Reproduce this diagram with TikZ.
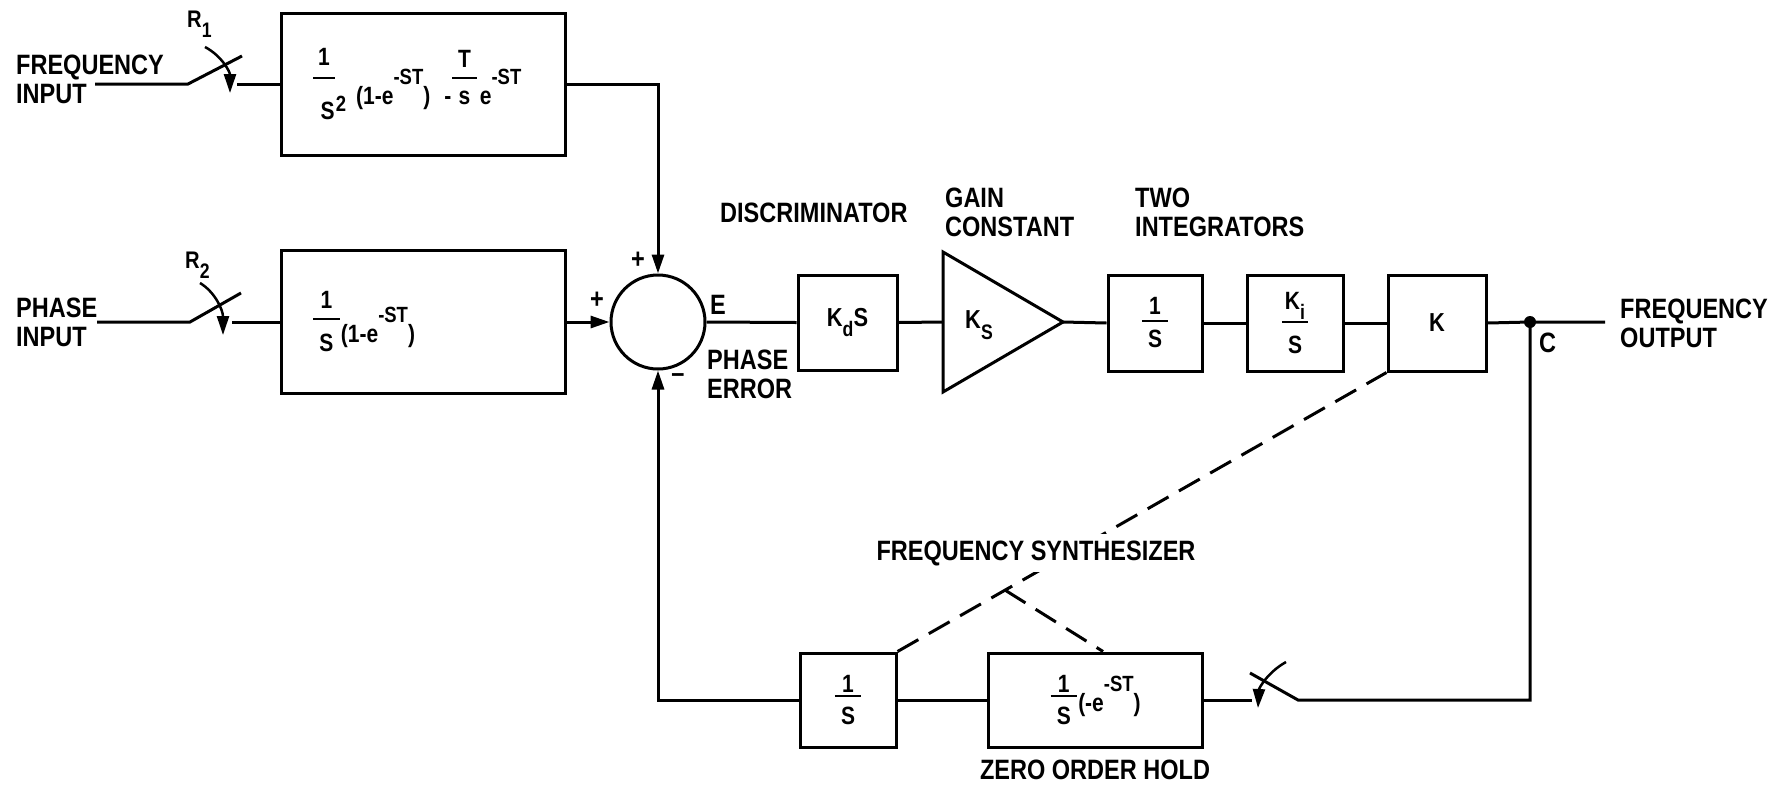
\documentclass[tikz,border=0pt]{standalone}
\usepackage{fontspec}
\usepackage{amsmath}
\setmainfont{Liberation Sans Bold}[FakeStretch=0.84]
\usetikzlibrary{arrows.meta,calc}
\newcommand\lblf{\fontsize{28}{29}\selectfont}
\newcommand\fml{\fontsize{25}{27}\selectfont}
\newcommand\kfnt{\fontsize{26}{28}\selectfont}
\newcommand\supx[1]{\raisebox{0.8em}{\fontsize{22}{22}\selectfont #1}}
\newcommand\subx[1]{\raisebox{-0.4em}{\fontsize{21}{21}\selectfont #1}}
% [raise]{num depth}{den strut}{num}{den}
\newcommand\fracx[5][0pt]{\raisebox{#1}{$\genfrac{}{}{2pt}{1}{\mbox{\rule[-#2]{0pt}{#2}#4}}{\mbox{\hspace{0.25em}\rule{0pt}{#3}#5\hspace{0.25em}}}$}}
\newcommand\fracy[5][0pt]{\raisebox{#1}{$\genfrac{}{}{2pt}{1}{\mbox{\rule[-#2]{0pt}{#2}#4}}{\mbox{\hspace{0.3em}\rule{0pt}{#3}#5}}$}}
\begin{document}
\begin{tikzpicture}[x=1pt,y=-1pt,
  wire/.style={line width=3pt},
  blk/.style={draw,line width=3pt,inner sep=0pt,font=\fml},
  lbl/.style={inner sep=0pt,anchor=west,align=left,font=\lblf},
  sml/.style={inner sep=0pt,font=\lblf},
  tip/.style={-{Triangle[length=19pt,width=12pt]}},
  dsh/.style={line width=3pt,dash pattern=on 24pt off 12pt},
]
\useasboundingbox (0,0) rectangle (1787,788);

% ---------- blocks ----------
\node[blk,minimum width=284pt,minimum height=142pt,text width=222pt,align=left] (top) at (423,84)
  {\fracy[20pt]{10pt}{38pt}{1}{S}\raisebox{-7pt}{\fontsize{22}{22}\selectfont 2}\hspace{10pt}(1-e\supx{-ST})\hspace{14pt}-\fracx[20pt]{8pt}{23pt}{T}{s}\hspace{2pt}e\supx{-ST}};
\node[blk,minimum width=284pt,minimum height=143pt,text width=222pt,align=left] (bot) at (423,322)
  {\fracx[17pt]{7pt}{30pt}{1}{S}(1-e\supx{-ST})};
\node[circle,draw,line width=3pt,minimum size=94pt,inner sep=0pt] (sum) at (658,322) {};
\node[blk,minimum width=99pt,minimum height=95pt,font=\kfnt] (kd) at (847.5,322.5) {K\subx{d}S};
\coordinate (triw) at (943,322);
\coordinate (trie) at (1063,322);
\draw[wire,line join=miter] (943,252) -- (trie) -- (943,392) -- cycle;
\node[inner sep=0pt,font=\kfnt] (ks) at (979,325) {K\subx{S}};
\node[blk,minimum width=94pt,minimum height=96pt] (int1) at (1155,323) {\fracx{3pt}{24pt}{1}{S}};
\node[blk,minimum width=96pt,minimum height=96pt] (int2) at (1295,323) {\fracx{3pt}{28pt}{K\subx{i}}{S}};
\node[blk,minimum width=98pt,minimum height=96pt,font=\kfnt] (kb) at (1437,323) {K};
\node[blk,minimum width=96pt,minimum height=94pt] (s1) at (848,700) {\fracx{0pt}{26pt}{1}{S}};
\node[blk,minimum width=214pt,minimum height=94pt] (zoh) at (1095,700) {\fracx[9pt]{0pt}{26pt}{1}{S}(-e\supx{-ST})};

% ---------- input switches ----------
\coordinate (fi) at (95,84);
\coordinate (fs) at (188,84);
\coordinate (fb) at (242,56);
\coordinate (fe) at (237,84);
\draw[wire] (fi) -- (fs) -- (fb);
\draw[wire] (fe) -- (top.west);
\draw[line width=2.5pt,tip] (205,47) .. controls (222,56) and (230,72) .. (230,93);

\coordinate (pi) at (97,322);
\coordinate (ps) at (190,322);
\coordinate (pb) at (241,293);
\coordinate (pe) at (232,322);
\draw[wire] (pi) -- (ps) -- (pb);
\draw[wire] (pe) -- (bot.west);
\draw[line width=2.5pt,tip] (200,283) .. controls (215,292) and (223,310) .. (223,335);

% ---------- forward path ----------
\draw[wire,tip] (top.east) -| (sum.north);
\draw[wire,tip] (bot.east) -- (sum.west);
\draw[wire] (sum.east) -- (kd.west);
\draw[wire] (kd.east) -- (triw);
\draw[wire] (trie) -- (int1.west);
\draw[wire] (int1.east) -- (int2.west);
\draw[wire] (int2.east) -- (kb.west);
\coordinate (c) at (1530,322);
\coordinate (oend) at (1605,322);
\draw[wire] (kb.east) -- (c) -- (oend);
\fill (c) circle (6pt);

% ---------- feedback path ----------
\coordinate (cb) at (1530,700);
\coordinate (zs) at (1298,700);
\coordinate (zb) at (1250,673);
\coordinate (ze) at (1252,700);
\draw[wire] (c) -- (cb) -- (zs) -- (zb);
\draw[wire] (zoh.east) -- (ze);
\draw[line width=2.5pt,tip] (1286,662) .. controls (1268,672) and (1259,688) .. (1258,708);
\draw[wire] (zoh.west) -- (s1.east);
\draw[wire,tip] (s1.west) -| (sum.south);

% ---------- dashed synthesizer lines ----------
\draw[dsh] (s1.north east) -- (kb.south west);
\coordinate (dm) at ($(s1.north east)!0.22!(kb.south west)$);
\draw[dsh] (dm) -- ($(zoh.north west)!0.537!(zoh.north east)$);
\node[inner sep=6pt,fill=white,font=\lblf] (fsyn) at (1036,553) {FREQUENCY SYNTHESIZER};

% ---------- labels ----------
\node[lbl] (lfi) at (16,79) {FREQUENCY\\INPUT};
\node[lbl] (lpi) at (16,322) {PHASE\\INPUT};
\node[inner sep=0pt,anchor=west,font=\fontsize{24}{24}\selectfont] (r1) at (187,24) {R\subx{1}};
\node[inner sep=0pt,anchor=west,font=\fontsize{24}{24}\selectfont] (r2) at (185,265) {R\subx{2}};
\node[sml] (ptop) at (638,260) {+};
\node[sml] (pleft) at (597,300) {+};
\node[sml] (le) at (718,305) {E};
\node[sml] (mn) at (678,378) {–};
\node[lbl] (lpe) at (707,374) {PHASE\\ERROR};
\node[lbl] (ldis) at (720,213) {DISCRIMINATOR};
\node[lbl] (lgain) at (945,212) {GAIN\\CONSTANT};
\node[lbl] (ltwo) at (1135,212) {TWO\\INTEGRATORS};
\node[lbl] (lc) at (1539,343) {C};
\node[lbl] (lfo) at (1620,323) {FREQUENCY\\OUTPUT};
\node[sml] (lzoh) at (1095,770) {ZERO ORDER HOLD};
\end{tikzpicture}
\end{document}
